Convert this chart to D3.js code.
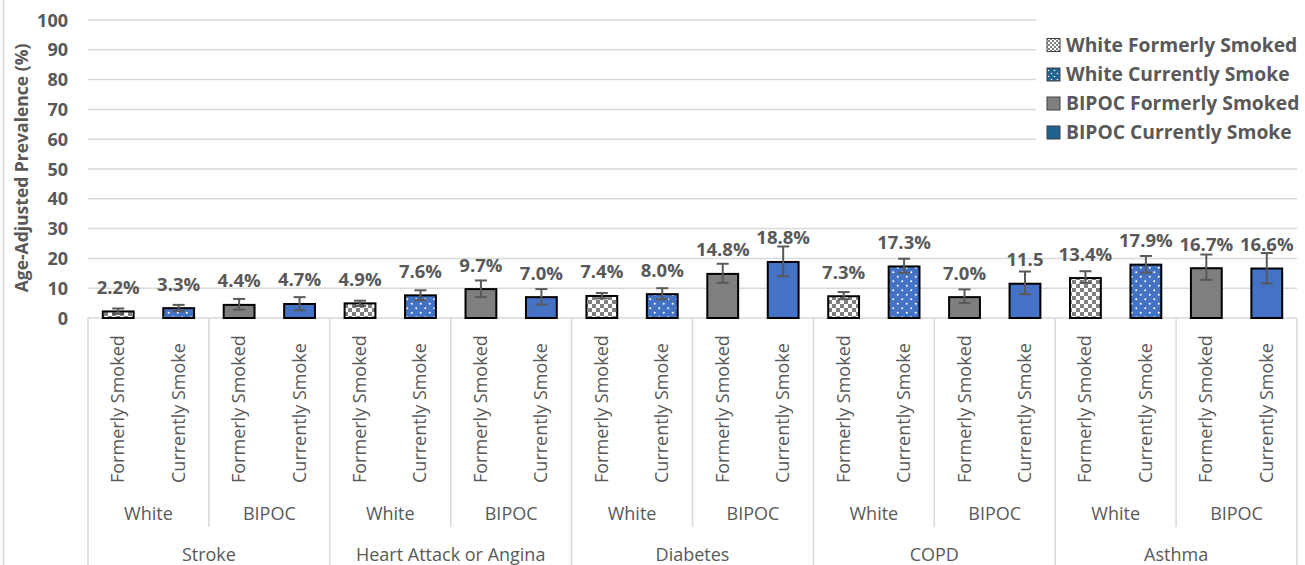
<!DOCTYPE html>
<html>
<head>
<meta charset="utf-8">
<script src="https://cdn.jsdelivr.net/npm/d3@7"></script>
<style>
  html, body { margin: 0; padding: 0; background: #fff; }
  svg { display: block; font-family: "Open Sans", "Noto Sans", sans-serif; }
</style>
</head>
<body>
<svg id="chart" width="1305" height="565"></svg>
<script>
// Conditions, groups and smoking status (multi-level category axis)
const diseases = ["Stroke", "Heart Attack or Angina", "Diabetes", "COPD", "Asthma"];
const races = ["White", "BIPOC"];
const statuses = ["Formerly Smoked", "Currently Smoke"];

// Age-adjusted prevalence (%) per condition, in the order of `diseases`
const whiteFormer  = [2.2, 4.9, 7.4, 7.3, 13.4];
const whiteCurrent = [3.3, 7.6, 8.0, 17.3, 17.9];
const bipocFormer  = [4.4, 9.7, 14.8, 7.0, 16.7];
const bipocCurrent = [4.7, 7.0, 18.8, 11.5, 16.6];

// 95% confidence interval bounds
const whiteFormerLow   = [1.4, 4.0, 6.6, 6.3, 11.8];
const whiteFormerHigh  = [3.2, 5.8, 8.4, 8.7, 15.7];
const whiteCurrentLow  = [2.3, 6.0, 6.3, 15.2, 15.2];
const whiteCurrentHigh = [4.4, 9.3, 10.0, 19.9, 20.8];
const bipocFormerLow   = [2.8, 7.0, 11.8, 5.0, 12.8];
const bipocFormerHigh  = [6.4, 12.6, 18.2, 9.6, 21.3];
const bipocCurrentLow  = [2.6, 4.5, 14.0, 8.0, 11.6];
const bipocCurrentHigh = [7.0, 9.7, 24.0, 15.6, 21.8];

// Whether each data label shows its percent sign (one label is clipped in the source)
const bipocCurrentPct = [true, true, true, false, true];

const yTicks = [0, 10, 20, 30, 40, 50, 60, 70, 80, 90, 100];
const legendNames = ["White Formerly Smoked", "White Currently Smoke", "BIPOC Formerly Smoked", "BIPOC Currently Smoke"];

const series = [
  { name: legendNames[0], race: "White", status: statuses[0], values: whiteFormer,  low: whiteFormerLow,  high: whiteFormerHigh,  pct: [true,true,true,true,true], fill: "url(#checker)", legendFill: "url(#checkerSmall)" },
  { name: legendNames[1], race: "White", status: statuses[1], values: whiteCurrent, low: whiteCurrentLow, high: whiteCurrentHigh, pct: [true,true,true,true,true], fill: "url(#dots)",    legendFill: "url(#dotsSmall)" },
  { name: legendNames[2], race: "BIPOC", status: statuses[0], values: bipocFormer,  low: bipocFormerLow,  high: bipocFormerHigh,  pct: [true,true,true,true,true], fill: "#7f7f7f",      legendFill: "#7f7f7f" },
  { name: legendNames[3], race: "BIPOC", status: statuses[1], values: bipocCurrent, low: bipocCurrentLow, high: bipocCurrentHigh, pct: bipocCurrentPct,            fill: "#4472c4",      legendFill: "#1f6391" }
];

// Flatten into bar records in axis order: disease > race > status
const bars = [];
diseases.forEach((d, di) => {
  races.forEach(r => {
    statuses.forEach(s => {
      const ser = series.find(x => x.race === r && x.status === s);
      bars.push({
        key: `${d}|${r}|${s}`, disease: d, race: r, status: s,
        value: ser.values[di], low: ser.low[di], high: ser.high[di],
        pct: ser.pct[di], fill: ser.fill
      });
    });
  });
});

const svg = d3.select("#chart");
const plotLeft = 88, plotRight = 1297, plotTop = 20, plotBase = 318;

const x = d3.scaleBand().domain(bars.map(b => b.key)).range([plotLeft, plotRight])
  .paddingInner(0.49).paddingOuter(0.245);
const y = d3.scaleLinear().domain([0, 100]).range([plotBase, plotTop]);

// Fill patterns
const defs = svg.append("defs");
function checker(id, size, cell) {
  const p = defs.append("pattern").attr("id", id).attr("patternUnits", "userSpaceOnUse")
    .attr("width", size).attr("height", size);
  p.append("rect").attr("width", size).attr("height", size).attr("fill", "#ffffff");
  p.append("rect").attr("width", cell).attr("height", cell).attr("fill", "#808080");
  p.append("rect").attr("x", cell).attr("y", cell).attr("width", cell).attr("height", cell).attr("fill", "#808080");
}
function dots(id, size, bg, r) {
  const p = defs.append("pattern").attr("id", id).attr("patternUnits", "userSpaceOnUse")
    .attr("width", size).attr("height", size);
  p.append("rect").attr("width", size).attr("height", size).attr("fill", bg);
  p.append("circle").attr("cx", size * 0.25).attr("cy", size * 0.25).attr("r", r).attr("fill", "#ffffff");
  p.append("circle").attr("cx", size * 0.75).attr("cy", size * 0.75).attr("r", r).attr("fill", "#ffffff");
}
checker("checker", 8, 4);
checker("checkerSmall", 4, 2);
dots("dots", 9, "#4472c4", 1);
dots("dotsSmall", 6, "#1f6391", 0.8);

// Chart frame edge
svg.append("line").attr("x1", 3.5).attr("x2", 3.5).attr("y1", 0).attr("y2", 565)
  .attr("stroke", "#d9d9d9").attr("stroke-width", 1.5);

// Gridlines
svg.append("g").selectAll("line").data(yTicks.filter(t => t > 0)).join("line")
  .attr("x1", plotLeft).attr("x2", plotRight)
  .attr("y1", d => y(d)).attr("y2", d => y(d))
  .attr("stroke", "#d9d9d9").attr("stroke-width", 1.5);

// Y axis tick labels
const yAxis = d3.axisLeft(y).tickValues(yTicks).tickSize(0).tickPadding(0);
const yg = svg.append("g").attr("transform", `translate(68,0)`).call(yAxis);
yg.select(".domain").remove();
yg.selectAll("text").attr("font-family", "Open Sans").attr("font-size", 18)
  .attr("font-weight", "bold").attr("fill", "#595959").attr("dy", "0.34em");

// Y axis title
svg.append("text")
  .attr("transform", `translate(28,168) rotate(-90)`)
  .attr("text-anchor", "middle")
  .attr("font-size", 17.5).attr("font-weight", "bold").attr("fill", "#595959")
  .text("Age-Adjusted Prevalence (%)");

// Category axis table: top line, group and condition separators
const axis = svg.append("g").attr("stroke", "#d9d9d9").attr("stroke-width", 1.5);
axis.append("line").attr("x1", plotLeft).attr("x2", plotRight).attr("y1", plotBase).attr("y2", plotBase);
const step = x.step();
const diseaseEdges = diseases.map((d, i) => x(`${d}|${races[0]}|${statuses[0]}`) - (step - x.bandwidth()) / 2);
diseaseEdges.push(plotRight);
axis.selectAll(".dsep").data(diseaseEdges).join("line").attr("class", "dsep")
  .attr("x1", d => d).attr("x2", d => d).attr("y1", plotBase).attr("y2", 565);
const raceEdges = diseases.map(d => x(`${d}|${races[1]}|${statuses[0]}`) - (step - x.bandwidth()) / 2);
axis.selectAll(".rsep").data(raceEdges).join("line").attr("class", "rsep")
  .attr("x1", d => d).attr("x2", d => d).attr("y1", plotBase).attr("y2", 527);

// Bars
svg.append("g").selectAll("rect").data(bars).join("rect")
  .attr("x", d => x(d.key)).attr("width", x.bandwidth())
  .attr("y", d => y(d.value)).attr("height", d => y(0) - y(d.value))
  .attr("fill", d => d.fill).attr("stroke", "#000").attr("stroke-width", 2);

// Error bars
const eb = svg.append("g").attr("stroke", "#595959").attr("stroke-width", 2);
bars.forEach(b => {
  const cx = x(b.key) + x.bandwidth() / 2;
  eb.append("line").attr("x1", cx).attr("x2", cx).attr("y1", y(b.low)).attr("y2", y(b.high));
  eb.append("line").attr("x1", cx - 6).attr("x2", cx + 6).attr("y1", y(b.low)).attr("y2", y(b.low));
  eb.append("line").attr("x1", cx - 6).attr("x2", cx + 6).attr("y1", y(b.high)).attr("y2", y(b.high));
});

// Data labels
svg.append("g").selectAll("text").data(bars).join("text")
  .attr("x", d => x(d.key) + x.bandwidth() / 2)
  .attr("y", d => y(d.value) - 17.5)
  .attr("text-anchor", "middle")
  .attr("font-size", 18.5).attr("font-weight", "bold").attr("fill", "#595959")
  .text(d => d.value.toFixed(1) + (d.pct ? "%" : ""));

// Status labels (rotated)
svg.append("g").selectAll("text").data(bars).join("text")
  .attr("transform", d => `translate(${x(d.key) + x.bandwidth() / 2 + 6},483) rotate(-90)`)
  .attr("font-size", 18).attr("fill", "#595959")
  .text(d => d.status);

// Race labels
const raceCenters = [];
diseases.forEach(d => races.forEach(r => {
  const a = x(`${d}|${r}|${statuses[0]}`), b = x(`${d}|${r}|${statuses[1]}`) + x.bandwidth();
  raceCenters.push({ label: r, cx: (a + b) / 2 });
}));
svg.append("g").selectAll("text").data(raceCenters).join("text")
  .attr("x", d => d.cx).attr("y", 520).attr("text-anchor", "middle")
  .attr("font-size", 18).attr("fill", "#595959").text(d => d.label);

// Condition labels
svg.append("g").selectAll("text").data(diseases).join("text")
  .attr("x", (d, i) => (diseaseEdges[i] + diseaseEdges[i + 1]) / 2).attr("y", 561)
  .attr("text-anchor", "middle")
  .attr("font-size", 18).attr("fill", "#595959").text(d => d);

// Legend
const lg = svg.append("g");
lg.append("rect").attr("x", 1036).attr("y", 14).attr("width", 269).attr("height", 136).attr("fill", "#fff");
const rowY = [45, 74.5, 103.5, 132.5];
series.forEach((s, i) => {
  lg.append("rect").attr("x", 1047).attr("y", rowY[i] - 6.5).attr("width", 13).attr("height", 13)
    .attr("fill", s.legendFill).attr("stroke", "#404040").attr("stroke-width", 1);
  lg.append("text").attr("x", 1066).attr("y", rowY[i]).attr("dy", "0.36em")
    .attr("font-size", 19.3).attr("font-weight", "bold").attr("fill", "#595959")
    .text(s.name);
});
</script>
</body>
</html>
